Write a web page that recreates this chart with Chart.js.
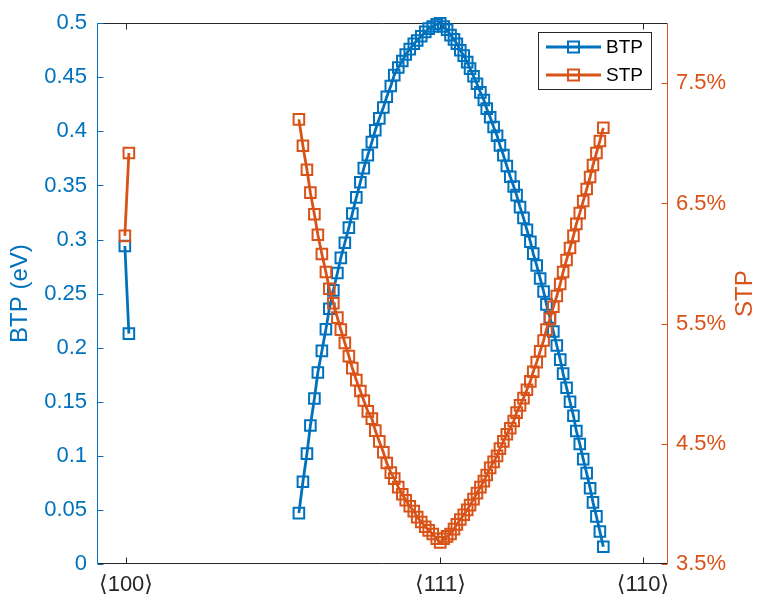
<!DOCTYPE html>
<html>
<head>
<meta charset="utf-8">
<script src="https://cdn.jsdelivr.net/npm/chart.js@4/dist/chart.umd.min.js"></script>
<style>
  html, body { margin: 0; padding: 0; background: #ffffff; }
  #wrap { width: 765px; height: 609px; }
</style>
</head>
<body>
<div id="wrap"><canvas id="c" width="765" height="609"></canvas></div>
<script>
// Crystal direction ticks on the angle axis (degrees from <100> towards <110> via <111>)
const angleTicks = [0, 54.74, 90];
const angleTickLabels = ['⟨100⟩', '⟨111⟩', '⟨110⟩'];
const btpTicks = [0, 0.05, 0.1, 0.15, 0.2, 0.25, 0.3, 0.35, 0.4, 0.45, 0.5];
const stpTicks = [3.5, 4.5, 5.5, 6.5, 7.5];

// Samples right next to <100>
const angleNear100 = [-0.2, 0.5];
const btpNear100 = [0.294, 0.213];
const stpNear100 = [6.23, 6.92];

// Main sweep through <111>
const angleMain = [
  30.1, 30.8, 31.5, 32.1, 32.8, 33.4, 34.1, 34.8, 35.4, 36.1,
  36.8, 37.4, 38.1, 38.8, 39.4, 40.1, 40.8, 41.4, 42.1, 42.8,
  43.4, 44.1, 44.8, 45.4, 46.1, 46.7, 47.4, 48.1, 48.7, 49.4,
  50.1, 50.7, 51.4, 52.1, 52.7, 53.4, 54.1, 54.7,
  55.3, 55.9, 56.5, 57.1, 57.6, 58.2, 58.8, 59.4, 59.9, 60.5,
  61.1, 61.7, 62.3, 62.8, 63.4, 64.0, 64.6, 65.1, 65.7, 66.3,
  66.9, 67.5, 68.0, 68.6, 69.2, 69.8, 70.4, 70.9, 71.5, 72.1,
  72.7, 73.2, 73.8, 74.4, 75.0, 75.6, 76.1, 76.7, 77.3, 77.9,
  78.4, 79.0, 79.6, 80.2, 80.8, 81.3, 81.9, 82.5, 83.1
];
const btpMain = [
  0.047, 0.076, 0.102, 0.128, 0.153, 0.177, 0.197, 0.217, 0.236, 0.253,
  0.269, 0.283, 0.297, 0.311, 0.324, 0.339, 0.353, 0.366, 0.378, 0.390,
  0.401, 0.412, 0.422, 0.432, 0.442, 0.452, 0.459, 0.465, 0.471, 0.476,
  0.481, 0.484, 0.488, 0.492, 0.495, 0.497, 0.499, 0.500,
  0.497, 0.494, 0.489, 0.485, 0.481, 0.475, 0.470, 0.464, 0.458, 0.451,
  0.444, 0.436, 0.429, 0.421, 0.413, 0.404, 0.396, 0.387, 0.378, 0.368,
  0.358, 0.349, 0.341, 0.330, 0.320, 0.309, 0.298, 0.287, 0.276, 0.264,
  0.252, 0.240, 0.228, 0.215, 0.202, 0.189, 0.176, 0.163, 0.150, 0.137,
  0.123, 0.111, 0.097, 0.084, 0.070, 0.057, 0.044, 0.030, 0.016
];
const stpMain = [
  7.20, 6.98, 6.78, 6.59, 6.41, 6.24, 6.08, 5.93, 5.79, 5.67,
  5.55, 5.45, 5.34, 5.23, 5.13, 5.03, 4.94, 4.86, 4.77, 4.71,
  4.61, 4.52, 4.43, 4.34, 4.26, 4.21, 4.14, 4.08, 4.03, 3.98,
  3.94, 3.89, 3.85, 3.81, 3.78, 3.75, 3.71, 3.68,
  3.71, 3.73, 3.75, 3.79, 3.83, 3.87, 3.91, 3.95, 3.99, 4.04,
  4.09, 4.14, 4.19, 4.24, 4.30, 4.35, 4.40, 4.46, 4.52, 4.58,
  4.63, 4.69, 4.76, 4.82, 4.88, 4.95, 5.02, 5.10, 5.18, 5.27,
  5.36, 5.45, 5.54, 5.64, 5.73, 5.83, 5.93, 6.03, 6.13, 6.23,
  6.33, 6.42, 6.52, 6.62, 6.72, 6.82, 6.92, 7.02, 7.13
];

const BLUE = '#0072BD';
const ORANGE = '#D95319';
const DARK = '#262626';
const FONT = '"Liberation Sans", Arial, "DejaVu Sans", sans-serif';

// Join the two sweeps with a null so the line breaks across the unsampled range
function series(a0, v0, a1, v1) {
  const pts = a0.map((a, i) => ({ x: a, y: v0[i] }));
  pts.push({ x: 15, y: null });
  return pts.concat(a1.map((a, i) => ({ x: a, y: v1[i] })));
}

function lineStyle(color) {
  return {
    borderColor: color,
    backgroundColor: 'rgba(0,0,0,0)',
    borderWidth: 2.8,
    pointStyle: 'rect',
    pointRadius: 7.5,
    pointBorderWidth: 2,
    pointBorderColor: color,
    pointBackgroundColor: 'rgba(0,0,0,0)',
    tension: 0,
    spanGaps: false,
    clip: false
  };
}

// Box frame, inward tick marks, right-hand axis title and the in-plot legend
const frame = {
  id: 'frame',
  beforeDatasetsDraw(chart) {
    const { ctx, chartArea: ca, scales } = chart;
    const L = Math.round(ca.left) + 0.5, R = Math.round(ca.right) - 0.5;
    const T = Math.round(ca.top) + 0.5, B = Math.round(ca.bottom) - 0.5;
    const tl = 6;
    ctx.save();
    ctx.lineWidth = 1;
    ctx.strokeStyle = DARK;
    ctx.beginPath();
    ctx.moveTo(L, T); ctx.lineTo(R, T);
    ctx.moveTo(L, B); ctx.lineTo(R, B);
    angleTicks.forEach(v => {
      const px = Math.round(scales.x.getPixelForValue(v)) + 0.5;
      ctx.moveTo(px, B); ctx.lineTo(px, B - tl);
      ctx.moveTo(px, T); ctx.lineTo(px, T + tl);
    });
    ctx.stroke();
    ctx.strokeStyle = BLUE;
    ctx.beginPath();
    ctx.moveTo(L, T); ctx.lineTo(L, B);
    btpTicks.forEach(v => {
      const py = Math.round(scales.y.getPixelForValue(v)) + 0.5;
      ctx.moveTo(L, py); ctx.lineTo(L + tl, py);
    });
    ctx.stroke();
    ctx.strokeStyle = ORANGE;
    ctx.beginPath();
    ctx.moveTo(R, T); ctx.lineTo(R, B);
    stpTicks.forEach(v => {
      const py = Math.round(scales.y1.getPixelForValue(v)) + 0.5;
      ctx.moveTo(R, py); ctx.lineTo(R - tl, py);
    });
    ctx.stroke();
    ctx.restore();
  },
  afterDraw(chart) {
    const { ctx, chartArea: ca } = chart;
    ctx.save();
    ctx.fillStyle = ORANGE;
    ctx.font = '24px ' + FONT;
    ctx.textAlign = 'center';
    ctx.textBaseline = 'middle';
    ctx.translate(745, (ca.top + ca.bottom) / 2);
    ctx.rotate(-Math.PI / 2);
    ctx.fillText('STP', 0, 0);
    ctx.restore();

    ctx.save();
    const bx = 538.5, by = 32.5, bw = 113, bh = 57;
    ctx.fillStyle = '#ffffff';
    ctx.fillRect(bx, by, bw, bh);
    ctx.strokeStyle = DARK;
    ctx.lineWidth = 1;
    ctx.strokeRect(bx, by, bw, bh);
    chart.data.datasets.forEach((ds, i) => {
      const y = 47 + i * 28;
      ctx.strokeStyle = ds.borderColor;
      ctx.lineWidth = 2.8;
      ctx.beginPath();
      ctx.moveTo(546, y); ctx.lineTo(601, y);
      ctx.stroke();
      ctx.lineWidth = 2;
      ctx.strokeRect(573.5 - 5.5, y - 5.5, 11, 11);
      ctx.fillStyle = '#000000';
      ctx.font = '19px ' + FONT;
      ctx.textAlign = 'left';
      ctx.textBaseline = 'middle';
      ctx.fillText(ds.label, 606, y + 1);
    });
    ctx.restore();
  }
};

new Chart(document.getElementById('c'), {
  type: 'line',
  data: {
    datasets: [
      Object.assign({ label: 'BTP', yAxisID: 'y', order: 2,
        data: series(angleNear100, btpNear100, angleMain, btpMain) }, lineStyle(BLUE)),
      Object.assign({ label: 'STP', yAxisID: 'y1', order: 1,
        data: series(angleNear100, stpNear100, angleMain, stpMain) }, lineStyle(ORANGE))
    ]
  },
  options: {
    responsive: false,
    animation: false,
    devicePixelRatio: 1,
    layout: { padding: { top: 17, left: 0, right: 0, bottom: 0 } },
    plugins: { legend: { display: false }, tooltip: { enabled: false } },
    scales: {
      x: {
        type: 'linear', position: 'bottom', min: -5.05, max: 94.36,
        afterBuildTicks: s => { s.ticks = angleTicks.map(v => ({ value: v })); },
        afterFit: s => { s.height = 45; },
        grid: { display: false, drawTicks: false },
        border: { display: false },
        ticks: {
          autoSkip: false, maxRotation: 0, padding: 8, color: DARK,
          font: { family: FONT, size: 22 },
          callback: v => angleTickLabels[angleTicks.indexOf(v)]
        }
      },
      y: {
        type: 'linear', position: 'left', min: 0, max: 0.5,
        afterBuildTicks: s => { s.ticks = btpTicks.map(v => ({ value: v })); },
        afterFit: s => { s.width = 97; },
        grid: { display: false, drawTicks: false },
        border: { display: false },
        ticks: {
          padding: 10, color: BLUE, font: { family: FONT, size: 22 },
          callback: v => String(Math.round(v * 100) / 100)
        },
        title: {
          display: true, text: 'BTP (eV)', color: BLUE,
          font: { family: FONT, size: 24 }, padding: { top: 6, bottom: 0 }
        }
      },
      y1: {
        type: 'linear', position: 'right', min: 3.5, max: 8,
        afterBuildTicks: s => { s.ticks = stpTicks.map(v => ({ value: v })); },
        afterFit: s => { s.width = 97; },
        grid: { display: false, drawTicks: false },
        border: { display: false },
        ticks: {
          padding: 8, color: ORANGE, font: { family: FONT, size: 22 },
          callback: v => v + '%'
        }
      }
    }
  },
  plugins: [frame]
});
</script>
</body>
</html>
